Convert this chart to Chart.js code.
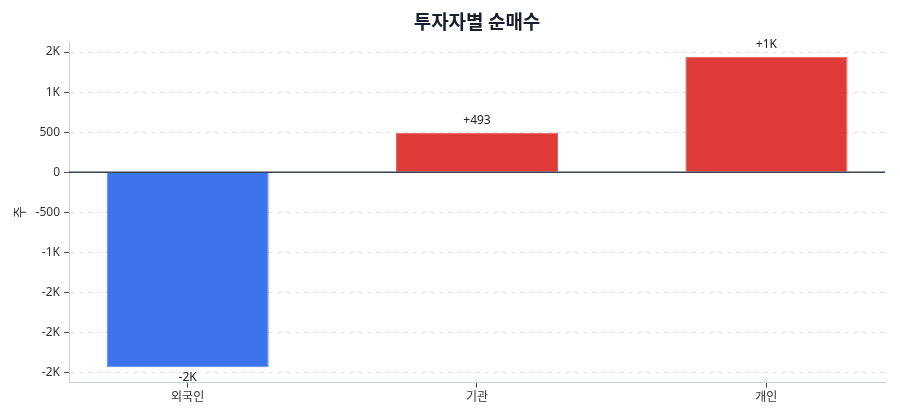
<!DOCTYPE html>
<html lang="ko">
<head>
<meta charset="utf-8">
<script src="https://cdn.jsdelivr.net/npm/chart.js@4"></script>
<style>
  html, body { margin: 0; padding: 0; background: #fff; }
  #wrap { width: 900px; height: 420px; }
</style>
</head>
<body>
<div id="wrap"><canvas id="chart"></canvas></div>
<script>
// 데이터
const categories = ["외국인", "기관", "개인"];
const netBuy = [-2435, 493, 1440];
const tickValues = [-2500, -2000, -1500, -1000, -500, 0, 500, 1000, 1500];
const barColors = ["#3b74ed", "#e03b3b", "#e03b3b"];

const FONT = "'Noto Sans', 'Noto Sans CJK KR', sans-serif";

// 짝수 반올림 (2.5 -> 2, 1.5 -> 2)
function roundHalfEven(x) {
  const r = Math.round(x);
  if (Math.abs(x % 1) === 0.5 && r % 2 !== 0) return r - 1;
  return r;
}

function fmt(v) {
  if (Math.abs(v) >= 1000) return roundHalfEven(v / 1000) + "K";
  return String(v);
}

// 제목 (차트 영역 가운데)
const titlePlugin = {
  id: "centerTitle",
  afterDraw(chart) {
    const { ctx, chartArea } = chart;
    ctx.save();
    ctx.font = "bold 19px 'Noto Sans CJK KR', sans-serif";
    ctx.fillStyle = "#1a1d2b";
    ctx.textAlign = "center";
    ctx.textBaseline = "middle";
    ctx.fillText("투자자별 순매수", (chartArea.left + chartArea.right) / 2, 22);
    ctx.restore();
  },
};

// 0 기준선
const zeroLine = {
  id: "zeroLine",
  afterDatasetsDraw(chart) {
    const { ctx, chartArea, scales } = chart;
    const y = scales.y.getPixelForValue(0);
    ctx.save();
    ctx.strokeStyle = "#3a4354";
    ctx.lineWidth = 1.5;
    ctx.beginPath();
    ctx.moveTo(chartArea.left, y);
    ctx.lineTo(chartArea.right, y);
    ctx.stroke();
    ctx.restore();
  },
};

// 막대 값 라벨
const barLabels = {
  id: "barLabels",
  afterDatasetsDraw(chart) {
    const { ctx } = chart;
    const meta = chart.getDatasetMeta(0);
    ctx.save();
    ctx.font = "12px " + FONT;
    ctx.fillStyle = "#222";
    ctx.textAlign = "center";
    ctx.textBaseline = "middle";
    meta.data.forEach((bar, i) => {
      const v = netBuy[i];
      const text = (v > 0 ? "+" : "") + fmt(v);
      ctx.fillText(text, bar.x, v >= 0 ? bar.y - 12 : bar.y + 10);
    });
    ctx.restore();
  },
};

new Chart(document.getElementById("chart"), {
  type: "bar",
  data: {
    datasets: [
      {
        data: netBuy.map((v, i) => ({ x: i, y: v })),
        backgroundColor: barColors,
        borderColor: ["#5a8af0", "#e86262", "#e86262"],
        borderWidth: 1,
        barPercentage: 0.56,
        categoryPercentage: 1,
      },
    ],
  },
  options: {
    responsive: true,
    maintainAspectRatio: false,
    animation: false,
    layout: { padding: { top: 42, right: 15, left: 12, bottom: 12 } },
    plugins: {
      legend: { display: false },
      tooltip: { enabled: false },
      title: { display: false },
    },
    scales: {
      x: {
        type: "linear",
        min: -0.41,
        max: 2.41,
        offset: false,
        afterBuildTicks: (scale) => {
          scale.ticks = categories.map((c, i) => ({ value: i }));
        },
        ticks: {
          callback: (v) => categories[v],
          color: "#333",
          font: { family: FONT, size: 12 },
          padding: 3,
          maxRotation: 0,
        },
        grid: {
          offset: false,
          drawOnChartArea: false,
          drawTicks: true,
          tickLength: 5,
          tickColor: "#444",
        },
        border: { color: "#c9ced8", width: 1 },
      },
      y: {
        min: -2625,
        max: 1625,
        afterBuildTicks: (scale) => {
          scale.ticks = tickValues.map((v) => ({ value: v }));
        },
        afterFit: (scale) => {
          scale.width = 57;
        },
        ticks: {
          callback: (v) => fmt(v),
          color: "#333",
          font: { family: FONT, size: 12 },
          padding: 4,
        },
        grid: {
          color: "#e6e6e6",
          tickColor: "#555",
          tickLength: 5,
          tickBorderDash: [],
        },
        border: { color: "#c9ced8", width: 1, dash: [5, 4] },
        title: {
          display: true,
          text: "주",
          color: "#333",
          font: { family: FONT, size: 13 },
          padding: 0,
        },
      },
    },
  },
  plugins: [titlePlugin, zeroLine, barLabels],
});
</script>
</body>
</html>
